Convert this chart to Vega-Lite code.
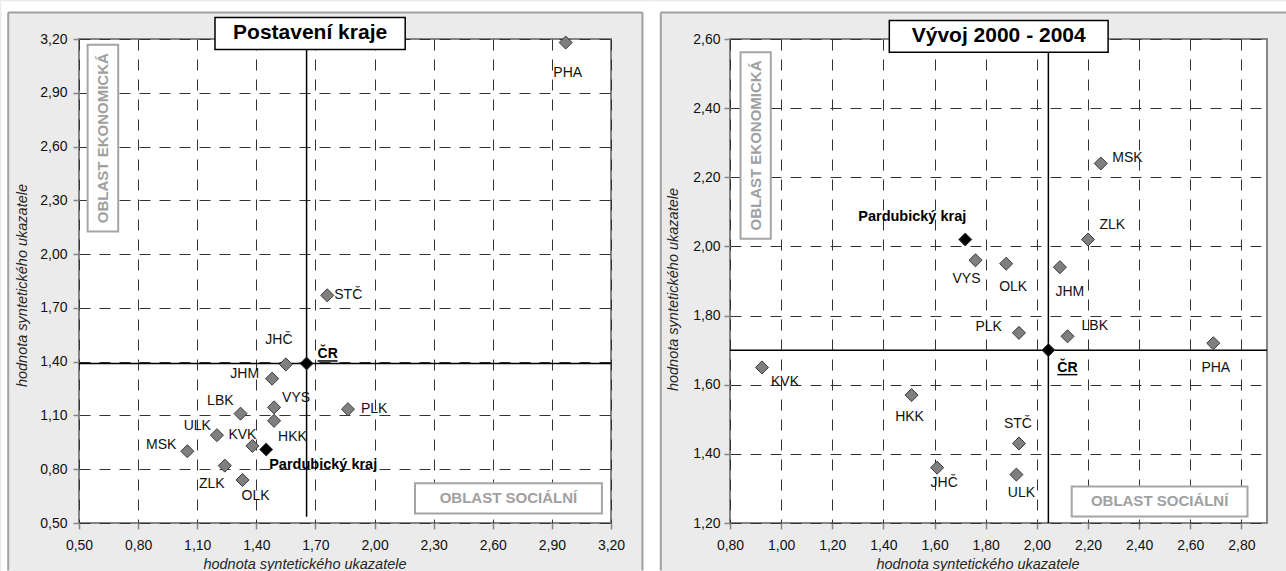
{
  "$schema": "https://vega.github.io/schema/vega-lite/v6.json",
  "background": "#ebebeb",
  "padding": 0,
  "autosize": {"type": "pad"},
  "bounds": "flush",
  "spacing": 119,
  "config": {
    "view": {"fill": "#ffffff", "stroke": "#858585", "strokeWidth": 2},
    "axis": {
      "domain": false, "grid": true, "gridColor": "#333333", "gridDash": [11, 9], "gridWidth": 1,
      "tickColor": "#858585", "tickWidth": 1.5, "tickSize": 6,
      "labelFont": "Liberation Sans", "labelFontSize": 14, "labelColor": "#111111",
      "titleFont": "Liberation Sans", "titleFontSize": 14.5, "titleFontStyle": "italic", "titleFontWeight": "normal", "titleColor": "#262626",
      "labelFlush": false, "labelOverlap": false,
      "labelExpr": "replace(format(datum.value, '.2f'), '.', ',')"
    },
    "text": {"font": "Liberation Sans", "fontSize": 14, "color": "#111111"}
  },
  "datasets": {
    "left": [
      {"name": "PHA", "x": 2.97, "y": 3.18},
      {"name": "STČ", "x": 1.76, "y": 1.77},
      {"name": "JHČ", "x": 1.55, "y": 1.385},
      {"name": "JHM", "x": 1.48, "y": 1.305},
      {"name": "VYS", "x": 1.49, "y": 1.145},
      {"name": "HKK", "x": 1.49, "y": 1.07},
      {"name": "PLK", "x": 1.865, "y": 1.135},
      {"name": "LBK", "x": 1.32, "y": 1.11},
      {"name": "ULK", "x": 1.2, "y": 0.99},
      {"name": "KVK", "x": 1.38, "y": 0.93},
      {"name": "MSK", "x": 1.05, "y": 0.9},
      {"name": "ZLK", "x": 1.24, "y": 0.82},
      {"name": "OLK", "x": 1.33, "y": 0.74},
      {"name": "Pardubický kraj", "x": 1.45, "y": 0.91},
      {"name": "ČR", "x": 1.655, "y": 1.39}
    ],
    "right": [
      {"name": "MSK", "x": 2.25, "y": 2.24},
      {"name": "ZLK", "x": 2.2, "y": 2.02},
      {"name": "VYS", "x": 1.76, "y": 1.96},
      {"name": "OLK", "x": 1.88, "y": 1.95},
      {"name": "JHM", "x": 2.09, "y": 1.94},
      {"name": "PLK", "x": 1.93, "y": 1.75},
      {"name": "LBK", "x": 2.12, "y": 1.74},
      {"name": "PHA", "x": 2.69, "y": 1.72},
      {"name": "KVK", "x": 0.925, "y": 1.65},
      {"name": "HKK", "x": 1.51, "y": 1.57},
      {"name": "STČ", "x": 1.93, "y": 1.43},
      {"name": "JHČ", "x": 1.61, "y": 1.36},
      {"name": "ULK", "x": 1.92, "y": 1.34},
      {"name": "Pardubický kraj", "x": 1.72, "y": 2.02},
      {"name": "ČR", "x": 2.045, "y": 1.7}
    ]
  },
  "hconcat": [
    {
      "width": 532,
      "height": 484,
      "layer": [
        {
          "data": {"values": [{}]},
          "layer": [
            {"mark": {"type": "rect", "color": "#ffffff"}, "encoding": {"x": {"datum": 0.1067, "type": "quantitative", "scale": {"domain": [0.5, 3.2], "nice": false, "zero": false}}, "x2": {"datum": 0.1407}, "y": {"datum": 0.2294, "type": "quantitative", "scale": {"domain": [0.5, 3.2], "nice": false, "zero": false}}, "y2": {"datum": 3.4092}}},
            {"mark": {"type": "rect", "color": "#ffffff"}, "encoding": {"x": {"datum": 0.1067, "type": "quantitative", "scale": {"domain": [0.5, 3.2], "nice": false, "zero": false}}, "x2": {"datum": 3.4527}, "y": {"datum": 3.3478, "type": "quantitative", "scale": {"domain": [0.5, 3.2], "nice": false, "zero": false}}, "y2": {"datum": 3.4092}}},
            {"mark": {"type": "rect", "color": "#ffffff"}, "encoding": {"x": {"datum": 3.3598, "type": "quantitative", "scale": {"domain": [0.5, 3.2], "nice": false, "zero": false}}, "x2": {"datum": 3.4527}, "y": {"datum": 0.2294, "type": "quantitative", "scale": {"domain": [0.5, 3.2], "nice": false, "zero": false}}, "y2": {"datum": 3.4092}}},
            {"mark": {"type": "rule", "color": "#a0a0a0", "strokeWidth": 2}, "encoding": {"x": {"datum": 0.1407, "type": "quantitative", "scale": {"domain": [0.5, 3.2], "nice": false, "zero": false}}, "x2": {"datum": 3.3598}, "y": {"datum": 3.3478, "type": "quantitative", "scale": {"domain": [0.5, 3.2], "nice": false, "zero": false}}}},
            {"mark": {"type": "rule", "color": "#a0a0a0", "strokeWidth": 2}, "encoding": {"x": {"datum": 0.1407, "type": "quantitative", "scale": {"domain": [0.5, 3.2], "nice": false, "zero": false}}, "y": {"datum": 0.235, "type": "quantitative", "scale": {"domain": [0.5, 3.2], "nice": false, "zero": false}}, "y2": {"datum": 3.3478}}},
            {"mark": {"type": "rule", "color": "#a0a0a0", "strokeWidth": 2}, "encoding": {"x": {"datum": 3.3598, "type": "quantitative", "scale": {"domain": [0.5, 3.2], "nice": false, "zero": false}}, "y": {"datum": 0.235, "type": "quantitative", "scale": {"domain": [0.5, 3.2], "nice": false, "zero": false}}, "y2": {"datum": 3.3478}}}
          ]
        },
        {
          "data": {"name": "left"},
          "transform": [{"filter": "datum.name === 'ČR'"}],
          "layer": [
            {"mark": {"type": "rule", "color": "#000000", "strokeWidth": 1.5}, "encoding": {"x": {"datum": 0.5, "type": "quantitative", "scale": {"domain": [0.5, 3.2], "nice": false, "zero": false}}, "x2": {"datum": 3.2}, "y": {"field": "y", "type": "quantitative", "scale": {"domain": [0.5, 3.2], "nice": false, "zero": false}}}},
            {"mark": {"type": "rule", "color": "#000000", "strokeWidth": 1.5}, "encoding": {"x": {"field": "x", "type": "quantitative", "scale": {"domain": [0.5, 3.2], "nice": false, "zero": false}}, "y": {"datum": 0.535, "type": "quantitative", "scale": {"domain": [0.5, 3.2], "nice": false, "zero": false}}, "y2": {"datum": 3.2}}}
          ]
        },
        {
          "data": {"values": [{}]},
          "layer": [
            {"mark": {"type": "rect", "fill": "#ffffff", "stroke": "#a5a5a5", "strokeWidth": 2}, "encoding": {"x": {"datum": 0.5437, "type": "quantitative", "scale": {"domain": [0.5, 3.2], "nice": false, "zero": false}}, "x2": {"datum": 0.6989}, "y": {"datum": 2.1261, "type": "quantitative", "scale": {"domain": [0.5, 3.2], "nice": false, "zero": false}}, "y2": {"datum": 3.1677}}},
            {"mark": {"type": "text", "text": "OBLAST EKONOMICKÁ", "angle": 270, "align": "center", "baseline": "middle", "fontWeight": "bold", "fontSize": 15, "color": "#a0a0a0"}, "encoding": {"x": {"datum": 0.6213, "type": "quantitative", "scale": {"domain": [0.5, 3.2], "nice": false, "zero": false}}, "y": {"datum": 2.6469, "type": "quantitative", "scale": {"domain": [0.5, 3.2], "nice": false, "zero": false}}}},
            {"mark": {"type": "rect", "fill": "#ffffff", "stroke": "#a5a5a5", "strokeWidth": 2}, "encoding": {"x": {"datum": 2.2052, "type": "quantitative", "scale": {"domain": [0.5, 3.2], "nice": false, "zero": false}}, "x2": {"datum": 3.1538}, "y": {"datum": 0.553, "type": "quantitative", "scale": {"domain": [0.5, 3.2], "nice": false, "zero": false}}, "y2": {"datum": 0.722}}},
            {"mark": {"type": "text", "text": "OBLAST SOCIÁLNÍ", "align": "center", "baseline": "middle", "fontWeight": "bold", "fontSize": 15, "color": "#a0a0a0"}, "encoding": {"x": {"datum": 2.6795, "type": "quantitative", "scale": {"domain": [0.5, 3.2], "nice": false, "zero": false}}, "y": {"datum": 0.6375, "type": "quantitative", "scale": {"domain": [0.5, 3.2], "nice": false, "zero": false}}}}
          ]
        },
        {
          "data": {"name": "left"},
          "mark": {"type": "point", "shape": "diamond", "filled": true, "size": 170, "stroke": "#3a3a3a", "strokeWidth": 1, "opacity": 1},
          "encoding": {
            "x": {"field": "x", "type": "quantitative", "scale": {"domain": [0.5, 3.2], "nice": false, "zero": false},
              "axis": {"values": [0.5, 0.8, 1.1, 1.4, 1.7, 2.0, 2.3, 2.6, 2.9, 3.2], "title": "hodnota syntetického ukazatele", "titleX": 225.5, "titleY": 41, "titleBaseline": "middle", "titleAlign": "center", "labelBaseline": "middle", "labelPadding": 16}},
            "y": {"field": "y", "type": "quantitative", "scale": {"domain": [0.5, 3.2], "nice": false, "zero": false},
              "axis": {"values": [0.5, 0.8, 1.1, 1.4, 1.7, 2.0, 2.3, 2.6, 2.9, 3.2], "title": "hodnota syntetického ukazatele", "titleX": -57, "titleY": 246, "titleAngle": 270, "titleBaseline": "middle", "titleAlign": "center", "labelPadding": 6}},
            "fill": {"condition": {"test": "datum.name === 'ČR' || datum.name === 'Pardubický kraj'", "value": "#000000"}, "value": "#7f7f7f"}
          }
        },
        {
          "data": {"name": "left"},
          "encoding": {
            "x": {"field": "x", "type": "quantitative", "scale": {"domain": [0.5, 3.2], "nice": false, "zero": false}},
            "y": {"field": "y", "type": "quantitative", "scale": {"domain": [0.5, 3.2], "nice": false, "zero": false}},
            "text": {"field": "name"}
          },
          "layer": [
            {"transform": [{"filter": "datum.name === 'PHA'"}], "mark": {"type": "text", "align": "center", "baseline": "middle", "dx": 2, "dy": 30}},
            {"transform": [{"filter": "datum.name === 'STČ'"}], "mark": {"type": "text", "align": "left", "baseline": "middle", "dx": 7, "dy": 0}},
            {"transform": [{"filter": "datum.name === 'JHČ'"}], "mark": {"type": "text", "align": "center", "baseline": "middle", "dx": -7, "dy": -24}},
            {"transform": [{"filter": "datum.name === 'ČR'"}], "mark": {"type": "text", "align": "left", "baseline": "middle", "dx": 11, "dy": -9, "fontWeight": "bold", "color": "#000000"}},
            {"transform": [{"filter": "datum.name === 'JHM'"}], "mark": {"type": "text", "align": "right", "baseline": "middle", "dx": -13, "dy": -5}},
            {"transform": [{"filter": "datum.name === 'VYS'"}], "mark": {"type": "text", "align": "left", "baseline": "middle", "dx": 8, "dy": -9}},
            {"transform": [{"filter": "datum.name === 'HKK'"}], "mark": {"type": "text", "align": "left", "baseline": "middle", "dx": 4, "dy": 16}},
            {"transform": [{"filter": "datum.name === 'PLK'"}], "mark": {"type": "text", "align": "left", "baseline": "middle", "dx": 13, "dy": 0}},
            {"transform": [{"filter": "datum.name === 'LBK'"}], "mark": {"type": "text", "align": "right", "baseline": "middle", "dx": -7, "dy": -13}},
            {"transform": [{"filter": "datum.name === 'ULK'"}], "mark": {"type": "text", "align": "right", "baseline": "middle", "dx": -6, "dy": -9}},
            {"transform": [{"filter": "datum.name === 'KVK'"}], "mark": {"type": "text", "align": "center", "baseline": "middle", "dx": -10, "dy": -11}},
            {"transform": [{"filter": "datum.name === 'MSK'"}], "mark": {"type": "text", "align": "right", "baseline": "middle", "dx": -11, "dy": -6}},
            {"transform": [{"filter": "datum.name === 'Pardubický kraj'"}], "mark": {"type": "text", "align": "left", "baseline": "middle", "dx": 3, "dy": 15, "fontWeight": "bold", "fontSize": 14.5, "color": "#000000"}},
            {"transform": [{"filter": "datum.name === 'ZLK'"}], "mark": {"type": "text", "align": "center", "baseline": "middle", "dx": -13, "dy": 18}},
            {"transform": [{"filter": "datum.name === 'OLK'"}], "mark": {"type": "text", "align": "center", "baseline": "middle", "dx": 13, "dy": 16}}
          ]
        },
        {
          "data": {"name": "left"},
          "transform": [{"filter": "datum.name === 'ČR'"}],
          "mark": {"type": "rule", "color": "#000000", "strokeWidth": 1.5, "xOffset": 11, "x2Offset": 31, "yOffset": -2.5, "y2Offset": -2.5},
          "encoding": {
            "x": {"field": "x", "type": "quantitative", "scale": {"domain": [0.5, 3.2], "nice": false, "zero": false}},
            "x2": {"field": "x"},
            "y": {"field": "y", "type": "quantitative", "scale": {"domain": [0.5, 3.2], "nice": false, "zero": false}},
            "y2": {"field": "y"}
          }
        },
        {
          "data": {"values": [{}]},
          "layer": [
            {"mark": {"type": "rect", "fill": "#ffffff", "stroke": "#000000", "strokeWidth": 1.5}, "encoding": {"x": {"datum": 1.1902, "type": "quantitative", "scale": {"domain": [0.5, 3.2], "nice": false, "zero": false}}, "x2": {"datum": 2.1555}, "y": {"datum": 3.1414, "type": "quantitative", "scale": {"domain": [0.5, 3.2], "nice": false, "zero": false}}, "y2": {"datum": 3.3199}}},
            {"mark": {"type": "text", "text": "Postavení kraje", "align": "center", "baseline": "middle", "fontWeight": "bold", "fontSize": 21, "color": "#000000"}, "encoding": {"x": {"datum": 1.6729, "type": "quantitative", "scale": {"domain": [0.5, 3.2], "nice": false, "zero": false}}, "y": {"datum": 3.2307, "type": "quantitative", "scale": {"domain": [0.5, 3.2], "nice": false, "zero": false}}}}
          ]
        }
      ]
    },
    {
      "width": 537,
      "height": 484,
      "layer": [
        {
          "data": {"values": [{}]},
          "layer": [
            {"mark": {"type": "rect", "color": "#ffffff"}, "encoding": {"x": {"datum": 0.5294, "type": "quantitative", "scale": {"domain": [0.8, 2.9], "nice": false, "zero": false}}, "x2": {"datum": 2.98}, "y": {"datum": 2.6767, "type": "quantitative", "scale": {"domain": [1.2, 2.6], "nice": false, "zero": false}}, "y2": {"datum": 2.7085}}},
            {"mark": {"type": "rule", "color": "#a0a0a0", "strokeWidth": 2}, "encoding": {"x": {"datum": 0.5294, "type": "quantitative", "scale": {"domain": [0.8, 2.9], "nice": false, "zero": false}}, "x2": {"datum": 2.975}, "y": {"datum": 2.6767, "type": "quantitative", "scale": {"domain": [1.2, 2.6], "nice": false, "zero": false}}}},
            {"mark": {"type": "rule", "color": "#a0a0a0", "strokeWidth": 2}, "encoding": {"x": {"datum": 0.5294, "type": "quantitative", "scale": {"domain": [0.8, 2.9], "nice": false, "zero": false}}, "y": {"datum": 1.0626, "type": "quantitative", "scale": {"domain": [1.2, 2.6], "nice": false, "zero": false}}, "y2": {"datum": 2.6767}}}
          ]
        },
        {
          "data": {"name": "right"},
          "transform": [{"filter": "datum.name === 'ČR'"}],
          "layer": [
            {"mark": {"type": "rule", "color": "#000000", "strokeWidth": 1.5}, "encoding": {"x": {"datum": 0.8, "type": "quantitative", "scale": {"domain": [0.8, 2.9], "nice": false, "zero": false}}, "x2": {"datum": 2.9}, "y": {"field": "y", "type": "quantitative", "scale": {"domain": [1.2, 2.6], "nice": false, "zero": false}}}},
            {"mark": {"type": "rule", "color": "#000000", "strokeWidth": 1.5}, "encoding": {"x": {"field": "x", "type": "quantitative", "scale": {"domain": [0.8, 2.9], "nice": false, "zero": false}}, "y": {"datum": 1.2, "type": "quantitative", "scale": {"domain": [1.2, 2.6], "nice": false, "zero": false}}, "y2": {"datum": 2.6}}}
          ]
        },
        {
          "data": {"values": [{}]},
          "layer": [
            {"mark": {"type": "rect", "fill": "#ffffff", "stroke": "#a5a5a5", "strokeWidth": 2}, "encoding": {"x": {"datum": 0.8411, "type": "quantitative", "scale": {"domain": [0.8, 2.9], "nice": false, "zero": false}}, "x2": {"datum": 0.9596}, "y": {"datum": 2.0221, "type": "quantitative", "scale": {"domain": [1.2, 2.6], "nice": false, "zero": false}}, "y2": {"datum": 2.5618}}},
            {"mark": {"type": "text", "text": "OBLAST EKONOMICKÁ", "angle": 270, "align": "center", "baseline": "middle", "fontWeight": "bold", "fontSize": 15, "color": "#a0a0a0"}, "encoding": {"x": {"datum": 0.9004, "type": "quantitative", "scale": {"domain": [0.8, 2.9], "nice": false, "zero": false}}, "y": {"datum": 2.292, "type": "quantitative", "scale": {"domain": [1.2, 2.6], "nice": false, "zero": false}}}},
            {"mark": {"type": "rect", "fill": "#ffffff", "stroke": "#a5a5a5", "strokeWidth": 2}, "encoding": {"x": {"datum": 2.1363, "type": "quantitative", "scale": {"domain": [0.8, 2.9], "nice": false, "zero": false}}, "x2": {"datum": 2.8238}, "y": {"datum": 1.2188, "type": "quantitative", "scale": {"domain": [1.2, 2.6], "nice": false, "zero": false}}, "y2": {"datum": 1.3056}}},
            {"mark": {"type": "text", "text": "OBLAST SOCIÁLNÍ", "align": "center", "baseline": "middle", "fontWeight": "bold", "fontSize": 15, "color": "#a0a0a0"}, "encoding": {"x": {"datum": 2.4801, "type": "quantitative", "scale": {"domain": [0.8, 2.9], "nice": false, "zero": false}}, "y": {"datum": 1.2622, "type": "quantitative", "scale": {"domain": [1.2, 2.6], "nice": false, "zero": false}}}}
          ]
        },
        {
          "data": {"name": "right"},
          "mark": {"type": "point", "shape": "diamond", "filled": true, "size": 170, "stroke": "#3a3a3a", "strokeWidth": 1, "opacity": 1},
          "encoding": {
            "x": {"field": "x", "type": "quantitative", "scale": {"domain": [0.8, 2.9], "nice": false, "zero": false},
              "axis": {"values": [0.8, 1.0, 1.2, 1.4, 1.6, 1.8, 2.0, 2.2, 2.4, 2.6, 2.8], "title": "hodnota syntetického ukazatele", "titleX": 247.5, "titleY": 41, "titleBaseline": "middle", "titleAlign": "center", "labelBaseline": "middle", "labelPadding": 16}},
            "y": {"field": "y", "type": "quantitative", "scale": {"domain": [1.2, 2.6], "nice": false, "zero": false},
              "axis": {"values": [1.2, 1.4, 1.6, 1.8, 2.0, 2.2, 2.4, 2.6], "title": "hodnota syntetického ukazatele", "titleX": -57, "titleY": 250, "titleAngle": 270, "titleBaseline": "middle", "titleAlign": "center", "labelPadding": 4}},
            "fill": {"condition": {"test": "datum.name === 'ČR' || datum.name === 'Pardubický kraj'", "value": "#000000"}, "value": "#7f7f7f"}
          }
        },
        {
          "data": {"name": "right"},
          "encoding": {
            "x": {"field": "x", "type": "quantitative", "scale": {"domain": [0.8, 2.9], "nice": false, "zero": false}},
            "y": {"field": "y", "type": "quantitative", "scale": {"domain": [1.2, 2.6], "nice": false, "zero": false}},
            "text": {"field": "name"}
          },
          "layer": [
            {"transform": [{"filter": "datum.name === 'MSK'"}], "mark": {"type": "text", "align": "left", "baseline": "middle", "dx": 11.5, "dy": -5}},
            {"transform": [{"filter": "datum.name === 'Pardubický kraj'"}], "mark": {"type": "text", "align": "center", "baseline": "middle", "dx": -53, "dy": -23, "fontWeight": "bold", "fontSize": 14.5, "color": "#000000"}},
            {"transform": [{"filter": "datum.name === 'ZLK'"}], "mark": {"type": "text", "align": "left", "baseline": "middle", "dx": 11.5, "dy": -15}},
            {"transform": [{"filter": "datum.name === 'VYS'"}], "mark": {"type": "text", "align": "center", "baseline": "middle", "dx": -9, "dy": 19}},
            {"transform": [{"filter": "datum.name === 'OLK'"}], "mark": {"type": "text", "align": "center", "baseline": "middle", "dx": 7, "dy": 23}},
            {"transform": [{"filter": "datum.name === 'JHM'"}], "mark": {"type": "text", "align": "center", "baseline": "middle", "dx": 10, "dy": 25}},
            {"transform": [{"filter": "datum.name === 'PLK'"}], "mark": {"type": "text", "align": "right", "baseline": "middle", "dx": -17, "dy": -6}},
            {"transform": [{"filter": "datum.name === 'LBK'"}], "mark": {"type": "text", "align": "left", "baseline": "middle", "dx": 14, "dy": -10}},
            {"transform": [{"filter": "datum.name === 'ČR'"}], "mark": {"type": "text", "align": "left", "baseline": "middle", "dx": 9, "dy": 18, "fontWeight": "bold", "color": "#000000"}},
            {"transform": [{"filter": "datum.name === 'PHA'"}], "mark": {"type": "text", "align": "center", "baseline": "middle", "dx": 2.5, "dy": 25}},
            {"transform": [{"filter": "datum.name === 'KVK'"}], "mark": {"type": "text", "align": "left", "baseline": "middle", "dx": 9, "dy": 15}},
            {"transform": [{"filter": "datum.name === 'HKK'"}], "mark": {"type": "text", "align": "center", "baseline": "middle", "dx": -2, "dy": 22}},
            {"transform": [{"filter": "datum.name === 'STČ'"}], "mark": {"type": "text", "align": "center", "baseline": "middle", "dx": -1, "dy": -19}},
            {"transform": [{"filter": "datum.name === 'JHČ'"}], "mark": {"type": "text", "align": "center", "baseline": "middle", "dx": 7, "dy": 15}},
            {"transform": [{"filter": "datum.name === 'ULK'"}], "mark": {"type": "text", "align": "center", "baseline": "middle", "dx": 5, "dy": 18}}
          ]
        },
        {
          "data": {"name": "right"},
          "transform": [{"filter": "datum.name === 'ČR'"}],
          "mark": {"type": "rule", "color": "#000000", "strokeWidth": 1.5, "xOffset": 9, "x2Offset": 29, "yOffset": 24.5, "y2Offset": 24.5},
          "encoding": {
            "x": {"field": "x", "type": "quantitative", "scale": {"domain": [0.8, 2.9], "nice": false, "zero": false}},
            "x2": {"field": "x"},
            "y": {"field": "y", "type": "quantitative", "scale": {"domain": [1.2, 2.6], "nice": false, "zero": false}},
            "y2": {"field": "y"}
          }
        },
        {
          "data": {"values": [{}]},
          "layer": [
            {"mark": {"type": "rect", "fill": "#ffffff", "stroke": "#000000", "strokeWidth": 1.5}, "encoding": {"x": {"datum": 1.423, "type": "quantitative", "scale": {"domain": [0.8, 2.9], "nice": false, "zero": false}}, "x2": {"datum": 2.2786}, "y": {"datum": 2.5618, "type": "quantitative", "scale": {"domain": [1.2, 2.6], "nice": false, "zero": false}}, "y2": {"datum": 2.6535}}},
            {"mark": {"type": "text", "text": "Vývoj 2000 - 2004", "align": "center", "baseline": "middle", "fontWeight": "bold", "fontSize": 21, "color": "#000000"}, "encoding": {"x": {"datum": 1.8508, "type": "quantitative", "scale": {"domain": [0.8, 2.9], "nice": false, "zero": false}}, "y": {"datum": 2.6077, "type": "quantitative", "scale": {"domain": [1.2, 2.6], "nice": false, "zero": false}}}}
          ]
        }
      ]
    }
  ]
}
